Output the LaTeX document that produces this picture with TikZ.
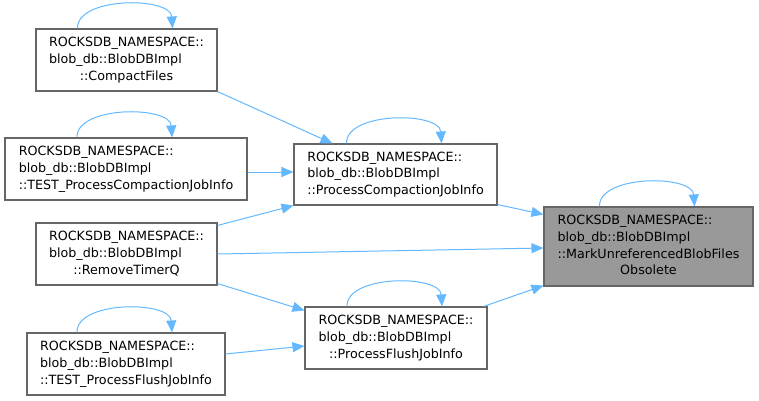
\documentclass[tikz,border=0pt]{standalone}
\usepackage{fontspec}
\setmainfont{DejaVu Sans}
\usetikzlibrary{arrows.meta,calc}
\definecolor{edgeblue}{HTML}{63B8FF}
\definecolor{boxborder}{HTML}{666666}
\definecolor{boxgray}{HTML}{999999}
\tikzset{
  fnbox/.style={draw=boxborder, line width=1.1pt, fill=white, inner sep=0pt,
    font=\fontsize{12.7}{16.7}\selectfont, text=black},
  hlbox/.style={fnbox, fill=boxgray},
  callarrow/.style={draw=edgeblue, line width=1pt, -{Triangle[length=12pt,width=10pt]}},
}
\newcommand{\lthree}[3]{\begin{tabular}{@{}l@{}}#1\\#2\\\multicolumn{1}{@{}c@{}}{#3}\end{tabular}}
\newcommand{\lfour}[4]{\begin{tabular}{@{}l@{}}#1\\#2\\#3\\\multicolumn{1}{@{}c@{}}{#4}\end{tabular}}
\begin{document}
\begin{tikzpicture}[x=1pt,y=-1pt]
\useasboundingbox (0,0) rectangle (759,400);
% nodes
\node[fnbox, minimum width=181pt, minimum height=62pt] (cf) at (126.5,60)
  {\lthree{ROCKSDB\_NAMESPACE::}{blob\_db::BlobDBImpl}{::CompactFiles}};
\node[fnbox, minimum width=242pt, minimum height=62pt] (tpc) at (126,169)
  {\lthree{ROCKSDB\_NAMESPACE::}{blob\_db::BlobDBImpl}{::TEST\_ProcessCompactionJobInfo}};
\node[fnbox, minimum width=181pt, minimum height=62pt] (rt) at (126.5,254)
  {\lthree{ROCKSDB\_NAMESPACE::}{blob\_db::BlobDBImpl}{::RemoveTimerQ}};
\node[fnbox, minimum width=198pt, minimum height=62pt] (tpf) at (126,364)
  {\lthree{ROCKSDB\_NAMESPACE::}{blob\_db::BlobDBImpl}{::TEST\_ProcessFlushJobInfo}};
\node[fnbox, minimum width=203pt, minimum height=61pt] (pc) at (395.5,174.5)
  {\lthree{ROCKSDB\_NAMESPACE::}{blob\_db::BlobDBImpl}{::ProcessCompactionJobInfo}};
\node[fnbox, minimum width=182pt, minimum height=62pt] (pf) at (396,338)
  {\lthree{ROCKSDB\_NAMESPACE::}{blob\_db::BlobDBImpl}{::ProcessFlushJobInfo}};
\node[hlbox, minimum width=209pt, minimum height=79pt] (m) at (648.5,246.5)
  {\lfour{ROCKSDB\_NAMESPACE::}{blob\_db::BlobDBImpl}{::MarkUnreferencedBlobFiles}{Obsolete}};
% self loops
\foreach \n in {cf,tpc,tpf,pc,pf,m}{
  \draw[callarrow] ($(\n.north)+(-49,0)$) .. controls ($(\n.north)+(-50,-32)$) and ($(\n.north)+(44,-32)$) .. ($(\n.north)+(46,0)$);
}
% edges
\draw[callarrow] (cf.south east) -- ($(pc.north west)+(39,0)$);
\draw[callarrow] ($(tpc.east)+(0,3)$) -- ($(pc.west)+(0,-2.5)$);
\draw[callarrow] ($(rt.north east)+(0,3)$) -- (pc.south west);
\draw[callarrow] (rt.east) -- ($(m.west)+(0,1.5)$);
\draw[callarrow] ($(rt.south east)+(0,-2)$) -- ($(pf.north west)+(0,4)$);
\draw[callarrow] ($(tpf.east)+(0,-10)$) -- ($(pf.west)+(0,8)$);
\draw[callarrow] ($(pc.south east)+(0,-1)$) -- ($(m.north west)+(0,8)$);
\draw[callarrow] ($(pf.north east)+(-4,0)$) -- ($(m.south west)+(0,-1)$);
\end{tikzpicture}
\end{document}
